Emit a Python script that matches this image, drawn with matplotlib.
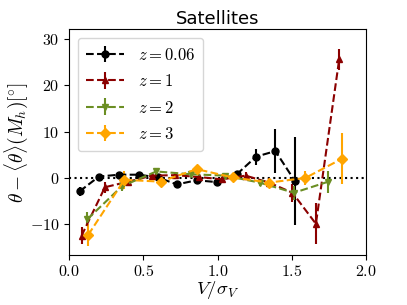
import numpy as np
import matplotlib
matplotlib.use("Agg")
import matplotlib.pyplot as plt
from matplotlib.ticker import FuncFormatter

plt.rcParams['mathtext.fontset'] = 'cm'
plt.rcParams['font.family'] = ['DejaVu Sans']

# z = 0.06
x_k = [0.07, 0.20, 0.335, 0.47, 0.60, 0.725, 0.86, 0.995, 1.13, 1.26, 1.39, 1.52]
y_k = [-2.9, 0.3, 0.7, 0.7, 0.1, -1.4, -0.5, -0.9, 0.8, 4.6, 5.8, -0.6]
e_k = [1.0, 0.4, 0.3, 0.3, 0.3, 0.4, 0.4, 0.5, 0.6, 1.7, 4.8, 9.5]
# z = 1
x_r = [0.083, 0.241, 0.399, 0.557, 0.715, 0.873, 1.031, 1.189, 1.347, 1.505, 1.663, 1.82]
y_r = [-12.5, -2.0, -0.8, 0.5, 0.6, 0.2, -0.3, 0.5, -1.0, -3.2, -9.9, 25.6]
e_r = [1.8, 1.2, 0.6, 0.5, 0.5, 0.5, 0.6, 0.7, 1.0, 2.0, 4.4, 2.3]
# z = 2
x_g = [0.123, 0.355, 0.587, 0.819, 1.051, 1.283, 1.515, 1.747]
y_g = [-8.9, -1.8, 1.4, 0.8, 0.5, -1.0, -3.2, -0.8]
e_g = [1.5, 1.0, 0.7, 0.6, 0.6, 0.8, 1.5, 2.4]
# z = 3
x_o = [0.128, 0.372, 0.616, 0.860, 1.104, 1.348, 1.592, 1.836]
y_o = [-12.3, -0.4, -0.8, 1.9, 0.1, -1.0, 0.0, 4.1]
e_o = [2.3, 2.0, 0.7, 0.7, 0.6, 0.8, 1.5, 5.5]

labels = [r'$z = 0.06$', r'$z = 1$', r'$z = 2$', r'$z = 3$']

fig = plt.figure(figsize=(4.07, 3.05), dpi=100)
ax = fig.add_axes([0.170, 0.163, 0.729, 0.741])

ax.axhline(0, color='black', ls=':', lw=1.5, zorder=1)
specs = [(x_k, y_k, e_k, 'black', 'o'),
         (x_r, y_r, e_r, '#8B0000', '^'),
         (x_g, y_g, e_g, '#6B8E23', 'v'),
         (x_o, y_o, e_o, '#FFA500', 'D')]
for (x, y, e, c, m), lab in zip(specs, labels):
    ax.errorbar(x, y, yerr=e, color=c, marker=m, ls='--', lw=1.5,
                ms=5, elinewidth=1.5, label=lab)

ax.set_xlim(0, 2.0)
ax.set_ylim(-16.7, 32.1)
ax.set_xticks([0.0, 0.5, 1.0, 1.5, 2.0])
ax.set_yticks([-10, 0, 10, 20, 30])
ax.xaxis.set_major_formatter(FuncFormatter(lambda v, p: r'$%.1f$' % v))
ax.yaxis.set_major_formatter(FuncFormatter(lambda v, p: r'$%d$' % round(v)))
ax.tick_params(labelsize=11.5)
ax.tick_params(axis='x', pad=3)
ax.set_xlabel(r'$V/\sigma_V$', fontsize=13.5, labelpad=0)
ax.set_ylabel(r'$\theta - \langle\theta\rangle(M_h) [^{\circ}]$', fontsize=14, labelpad=0)
ax.set_title('Satellites', fontsize=13, pad=4)
ax.legend(loc='upper left', fontsize=12, handlelength=2.3, borderpad=0.5,
          labelspacing=0.5)

fig.savefig('out.png', dpi=100)
